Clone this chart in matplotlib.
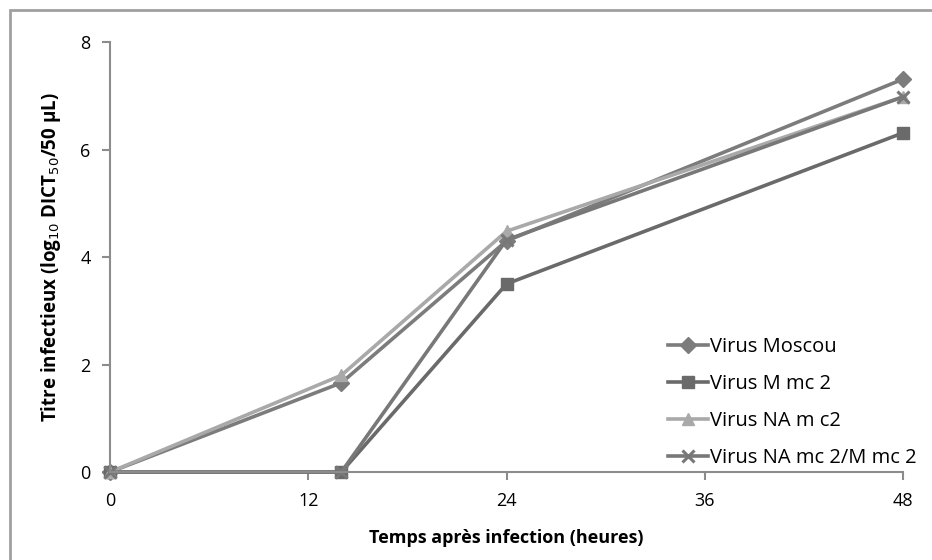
import matplotlib.pyplot as plt
from matplotlib.patches import Rectangle

plt.rcParams['font.family'] = ['Open Sans', 'DejaVu Sans']

heures = [0, 14, 24, 48]
moscou = [0, 1.66, 4.3, 7.31]
m_mc2 = [0, 0, 3.5, 6.31]
na_mc2 = [0, 1.8, 4.48, 6.98]
na_m_mc2 = [0, 0, 4.32, 6.98]

series = [
    ('Virus Moscou', moscou, '#7c7c7c', 'D', 8),
    ('Virus M mc 2', m_mc2, '#6a6a6a', 's', 9),
    ('Virus NA m c2', na_mc2, '#a9a9a9', '^', 9),
    ('Virus NA mc 2/M mc 2', na_m_mc2, '#787878', 'x', 9),
]

fig = plt.figure(figsize=(9.32, 5.6), dpi=100)
# cadre gris autour du graphique
fig.patches.append(Rectangle((0.011, -0.05), 1.1, 1.033, transform=fig.transFigure,
                             fill=False, edgecolor='#a0a0a0', linewidth=2))
ax = fig.add_axes([0.118, 0.157, 0.851, 0.768])

for nom, vals, col, mk, ms in series:
    ax.plot(heures, vals, color=col, marker=mk, markersize=ms, linewidth=2.6,
            markeredgewidth=2.2 if mk == 'x' else 1, label=nom)

ax.set_xlim(0, 48)
ax.set_ylim(0, 8)
ax.set_xticks([0, 12, 24, 36, 48])
ax.set_yticks([0, 2, 4, 6, 8])
for s in ['top', 'right']:
    ax.spines[s].set_visible(False)
for s in ['left', 'bottom']:
    ax.spines[s].set_color('#8c8c8c')
    ax.spines[s].set_linewidth(1.5)
ax.tick_params(axis='both', colors='#8c8c8c', width=1.5, length=6,
               labelcolor='black', labelsize=13)
ax.tick_params(axis='x', pad=8)
ax.tick_params(axis='y', pad=8)
for m in ax.get_lines():
    m.set_clip_on(False)

ax.set_xlabel('Temps après infection (heures)', fontsize=13, fontweight='bold', labelpad=14)
ax.set_ylabel('Titre infectieux (log$_{10}$ DICT$_{50}$/50 µL)', fontsize=13.5,
              fontweight='bold', labelpad=12)

fig.legend(loc='lower right', bbox_to_anchor=(0.992, 0.15), frameon=False, fontsize=14.5,
           handlelength=2.0, handletextpad=0.1, labelspacing=0.85, borderaxespad=0.0)

fig.savefig('out.png', dpi=100)
